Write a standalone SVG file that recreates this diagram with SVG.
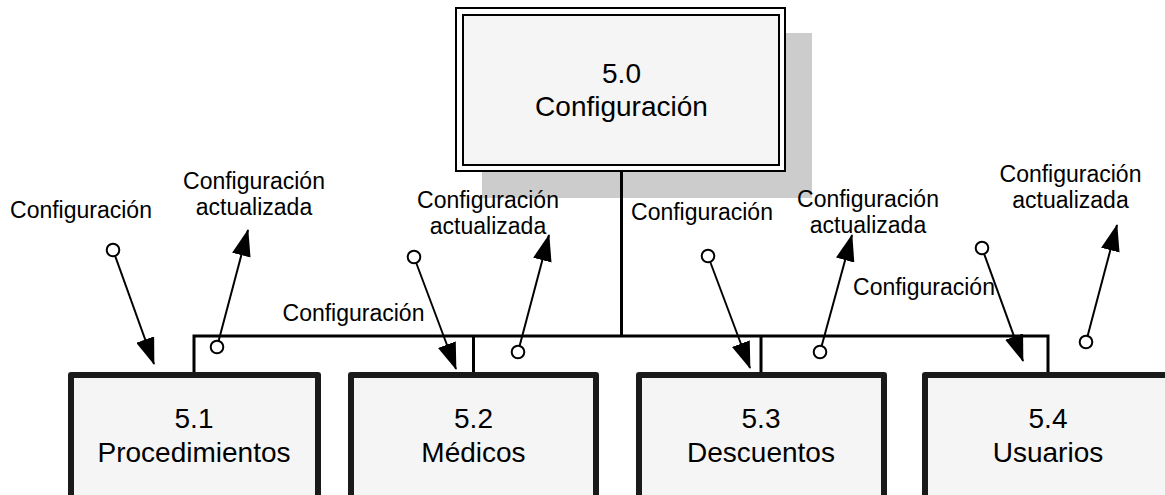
<svg xmlns="http://www.w3.org/2000/svg" width="1165" height="495" viewBox="0 0 1165 495">
<style>
text{font-family:"Liberation Sans",Arial,sans-serif;fill:#000;text-anchor:middle}
.box{font-size:28px}
.lbl{font-size:23px}
.proc{fill:#f5f5f5;stroke:#1a1a1a;stroke-width:6;stroke-linejoin:round}
.bus{fill:none;stroke:#000;stroke-width:3}
.flow{fill:none;stroke:#000;stroke-width:2}
.dot{fill:#fff;stroke:#000;stroke-width:2}
</style>
<defs>
<marker id="ah" viewBox="0 0 27 19" refX="26" refY="9.5" markerWidth="27" markerHeight="19" markerUnits="userSpaceOnUse" orient="auto">
<path d="M0,0 L27,9.5 L0,19 z" fill="#000"/>
</marker>
</defs>

<g id="n50">
<rect x="482" y="33" width="330" height="165" fill="#cccccc"/>
<rect x="456" y="8" width="329" height="163" fill="#fff" stroke="#000" stroke-width="2"/>
<rect x="463" y="15" width="316" height="150" fill="#f5f5f5" stroke="#000" stroke-width="2"/>
<text class="box" x="621.5" y="83">5.0</text>
<text class="box" x="621.5" y="116">Configuración</text>
</g>

<g id="connectors">
<path class="bus" d="M621.5,171 V336 M194,375 V336 H1048 V375 M473.5,336 V375 M761,336 V375"/>
<line class="flow" x1="113" y1="250" x2="154" y2="364" marker-end="url(#ah)"/>
<line class="flow" x1="217" y1="347" x2="248" y2="230" marker-end="url(#ah)"/>
<line class="flow" x1="414" y1="257" x2="456" y2="369" marker-end="url(#ah)"/>
<line class="flow" x1="518" y1="352" x2="549" y2="235" marker-end="url(#ah)"/>
<line class="flow" x1="708" y1="256" x2="750" y2="368" marker-end="url(#ah)"/>
<line class="flow" x1="820" y1="352" x2="852" y2="235" marker-end="url(#ah)"/>
<line class="flow" x1="982" y1="248" x2="1023" y2="361" marker-end="url(#ah)"/>
<line class="flow" x1="1086" y1="342" x2="1117" y2="225" marker-end="url(#ah)"/>
<circle class="dot" cx="113" cy="250" r="6.3"/>
<circle class="dot" cx="217" cy="347" r="6.3"/>
<circle class="dot" cx="414" cy="257" r="6.3"/>
<circle class="dot" cx="518" cy="352" r="6.3"/>
<circle class="dot" cx="708" cy="256" r="6.3"/>
<circle class="dot" cx="820" cy="352" r="6.3"/>
<circle class="dot" cx="982" cy="248" r="6.3"/>
<circle class="dot" cx="1086" cy="342" r="6.3"/>
</g>

<g id="labels">
<text class="lbl" x="81" y="218">Configuración</text>
<text class="lbl" x="254" y="189">Configuración</text>
<text class="lbl" x="254" y="215">actualizada</text>
<text class="lbl" x="353.5" y="321">Configuración</text>
<text class="lbl" x="488" y="208">Configuración</text>
<text class="lbl" x="488" y="234">actualizada</text>
<text class="lbl" x="702" y="220">Configuración</text>
<text class="lbl" x="868" y="207">Configuración</text>
<text class="lbl" x="868" y="233">actualizada</text>
<text class="lbl" x="924" y="295">Configuración</text>
<text class="lbl" x="1070.5" y="182">Configuración</text>
<text class="lbl" x="1070.5" y="208">actualizada</text>
</g>

<g id="n51">
<rect class="proc" x="71" y="375" width="247" height="140"/>
<text class="box" x="194" y="428">5.1</text>
<text class="box" x="194" y="462">Procedimientos</text>
</g>
<g id="n52">
<rect class="proc" x="351" y="375" width="245" height="140"/>
<text class="box" x="473.5" y="428">5.2</text>
<text class="box" x="473.5" y="462">Médicos</text>
</g>
<g id="n53">
<rect class="proc" x="639" y="375" width="245" height="140"/>
<text class="box" x="761" y="428">5.3</text>
<text class="box" x="761" y="462">Descuentos</text>
</g>
<g id="n54">
<rect class="proc" x="925" y="375" width="246" height="140"/>
<text class="box" x="1048" y="428">5.4</text>
<text class="box" x="1048" y="462">Usuarios</text>
</g>
</svg>
